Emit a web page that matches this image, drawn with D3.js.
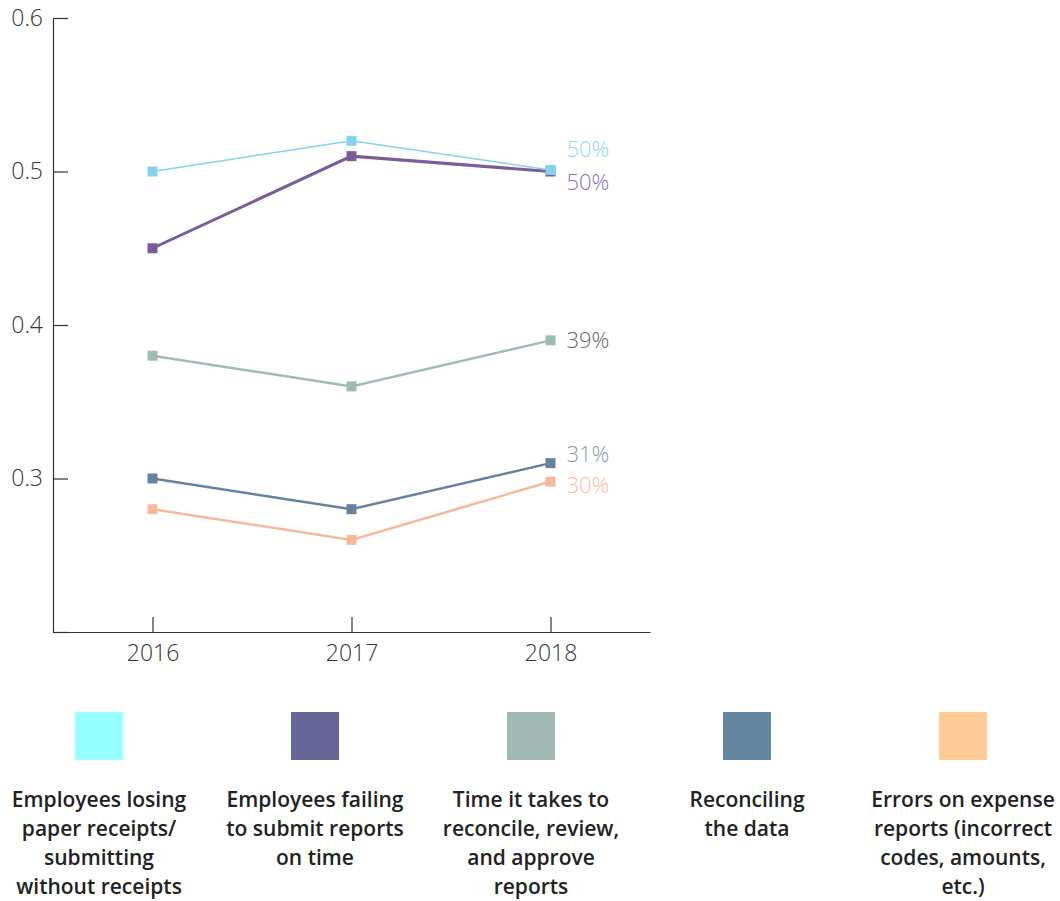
<!DOCTYPE html>
<html>
<head>
<meta charset="utf-8">
<script src="https://cdn.jsdelivr.net/npm/d3@7"></script>
<style>
  body { margin: 0; background: #fff; }
  svg { display: block; }
</style>
</head>
<body>
<svg id="chart" width="1060" height="901"></svg>
<script>
// Data
const years = [2016, 2017, 2018];
const seriesNames = [
  "Employees losing paper receipts/ submitting without receipts",
  "Employees failing to submit reports on time",
  "Time it takes to reconcile, review, and approve reports",
  "Reconciling the data",
  "Errors on expense reports (incorrect codes, amounts, etc.)"
];
const losingReceipts = [0.50, 0.52, 0.501];
const failingToSubmit = [0.45, 0.51, 0.50];
const timeToReconcile = [0.38, 0.36, 0.39];
const reconcilingData = [0.30, 0.28, 0.31];
const errorsOnReports = [0.28, 0.26, 0.298];
const endLabels = ["50%", "50%", "39%", "31%", "30%"];
const yTicks = [0.2, 0.3, 0.4, 0.5, 0.6];

// legend text broken the way the reference wraps it
const legendLines = [
  ["Employees losing", "paper receipts/", "submitting", "without receipts"],
  ["Employees failing", "to submit reports", "on time"],
  ["Time it takes to", "reconcile, review,", "and approve", "reports"],
  ["Reconciling", "the data"],
  ["Errors on expense", "reports (incorrect", "codes, amounts,", "etc.)"]
];

// styling
const lineColors = ["#84d3ea", "#7a5c9b", "#a0bbb4", "#64829e", "#f7b99c"];
const lineWidths = [1.5, 3, 2.5, 2.5, 2.5];
const labelColors = ["#8fd8ee", "#8d70aa", "#666666", "#7f9bb6", "#f9bda2"];
const labelNudge = [-21, 11, 0, -9, 4];
const swatchColors = ["#96ffff", "#676699", "#a1b9b4", "#6686a0", "#ffcc99"];

const series = [losingReceipts, failingToSubmit, timeToReconcile, reconcilingData, errorsOnReports]
  .map((vals, i) => ({
    name: seriesNames[i],
    label: endLabels[i],
    values: vals.map((v, j) => ({ year: years[j], value: v }))
  }));

const svg = d3.select("#chart");
const font = "'Source Sans Pro', 'Open Sans', sans-serif";

const x = d3.scaleLinear().domain([2015.5, 2018.5]).range([53, 650]);
const y = d3.scaleLinear().domain([0.2, 0.6]).range([632, 18]);

// Axes
svg.append("g")
  .attr("transform", `translate(${x.range()[0]},0)`)
  .call(d3.axisLeft(y)
    .tickValues(yTicks)
    .tickSizeInner(-15)
    .tickSizeOuter(0)
    .tickPadding(10)
    .tickFormat(d => d === 0.2 ? "" : d3.format(".1f")(d)));

svg.append("g")
  .attr("transform", `translate(0,${y.range()[0]})`)
  .call(d3.axisBottom(x)
    .tickValues(years)
    .tickSizeInner(-15)
    .tickSizeOuter(0)
    .tickPadding(13)
    .tickFormat(d3.format("d")));

svg.selectAll(".domain, .tick line").attr("stroke", "#333").attr("stroke-width", 1.2);
svg.selectAll(".tick text")
  .attr("fill", "#333")
  .style("font-family", font)
  .style("font-weight", 300)
  .style("font-size", "23px");

// Lines
const line = d3.line()
  .x(d => x(d.year))
  .y(d => y(d.value));

const groups = svg.selectAll("g.series")
  .data(series)
  .join("g")
  .attr("class", "series");

groups.append("path")
  .attr("d", d => line(d.values))
  .attr("fill", "none")
  .attr("stroke", (d, i) => lineColors[i])
  .attr("stroke-width", (d, i) => lineWidths[i]);

groups.each(function(d, i) {
  d3.select(this).selectAll("rect")
    .data(d.values)
    .join("rect")
    .attr("x", p => x(p.year) - 5)
    .attr("y", p => y(p.value) - 5)
    .attr("width", 10)
    .attr("height", 10)
    .attr("fill", lineColors[i]);
});

// first series sits on top where it meets the second
groups.filter((d, i) => i === 0).raise();

// End labels
groups.append("text")
  .attr("x", d => x(d.values[d.values.length - 1].year) + 16)
  .attr("y", (d, i) => y(d.values[d.values.length - 1].value) + labelNudge[i])
  .attr("dy", "0.35em")
  .attr("fill", (d, i) => labelColors[i])
  .style("font-family", font)
  .style("font-weight", 300)
  .style("font-size", "22px")
  .text(d => d.label);

// Legend
const legend = svg.selectAll("g.legend")
  .data(series)
  .join("g")
  .attr("class", "legend")
  .attr("transform", (d, i) => `translate(${99 + i * 216}, 712)`);

legend.append("rect")
  .attr("x", -24)
  .attr("width", 48)
  .attr("height", 48)
  .attr("fill", (d, i) => swatchColors[i]);

legend.append("text")
  .attr("text-anchor", "middle")
  .attr("fill", "#222")
  .style("font-family", font)
  .style("font-weight", 600)
  .style("font-size", "21px")
  .selectAll("tspan")
  .data((d, i) => legendLines[i])
  .join("tspan")
  .attr("x", 0)
  .attr("y", (t, j) => 95 + j * 29)
  .text(t => t);
</script>
</body>
</html>
